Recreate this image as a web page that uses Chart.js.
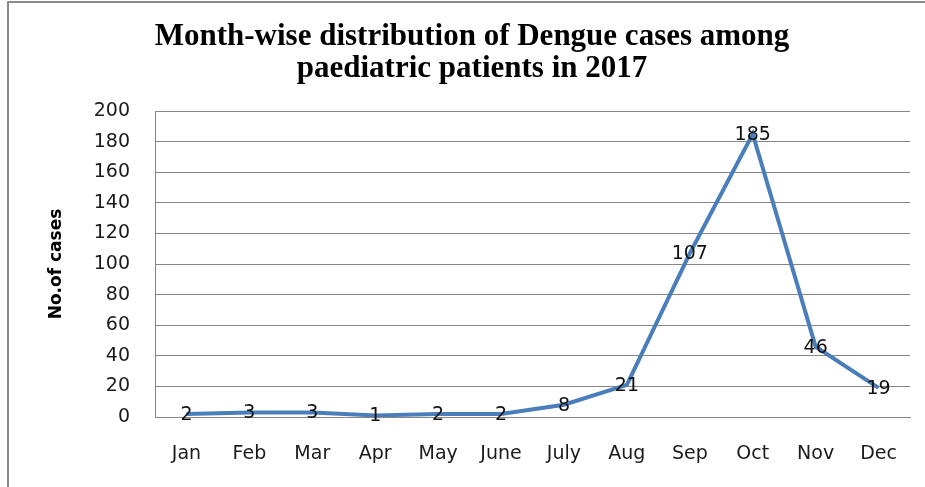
<!DOCTYPE html>
<html>
<head>
<meta charset="utf-8">
<script src="https://cdn.jsdelivr.net/npm/chart.js@4/dist/chart.umd.min.js"></script>
<style>
  html, body { margin: 0; padding: 0; background: #fff; overflow: hidden; }
  #wrap { position: relative; width: 925px; height: 487px; }
  #frame { position: absolute; left: 7px; top: 1px; width: 1000px; height: 600px; border: 2px solid #8c8c8c; box-sizing: border-box; }
  canvas { position: absolute; left: 0; top: 0; }
</style>
</head>
<body>
<div id="wrap">
  <div id="frame"></div>
  <canvas id="chart" width="925" height="487"></canvas>
</div>
<script>
// chart data
const months = ['Jan', 'Feb', 'Mar', 'Apr', 'May', 'June', 'July', 'Aug', 'Sep', 'Oct', 'Nov', 'Dec'];
const cases = [2, 3, 3, 1, 2, 2, 8, 21, 107, 185, 46, 19];
const titleLines = ['Month-wise distribution of Dengue cases among', 'paediatric patients in 2017'];
const yAxisTitle = 'No.of cases';
const yMin = 0, yMax = 200, yStep = 20;

// draw value labels centred on each point
const pointLabels = {
    id: 'pointLabels',
    afterDatasetsDraw(chart) {
        const ctx = chart.ctx;
        const meta = chart.getDatasetMeta(0);
        ctx.save();
        ctx.font = '19px "DejaVu Sans", sans-serif';
        ctx.fillStyle = '#111';
        ctx.textAlign = 'center';
        ctx.textBaseline = 'middle';
        meta.data.forEach((pt, i) => {
            ctx.fillText(String(cases[i]), pt.x, pt.y + 1);
        });
        ctx.restore();
    }
};

new Chart(document.getElementById('chart'), {
    type: 'line',
    data: {
        labels: months,
        datasets: [{
            data: cases,
            borderColor: '#4A7EBB',
            borderWidth: 4,
            pointRadius: 0,
            tension: 0,
            fill: false
        }]
    },
    options: {
        responsive: false,
        animation: false,
        layout: { padding: { left: 34, right: 15, top: 0, bottom: 23 } },
        plugins: {
            legend: { display: false },
            tooltip: { enabled: false },
            title: {
                display: true,
                text: titleLines,
                color: '#000',
                font: { family: '"Liberation Serif", "Times New Roman", serif', size: 31, weight: 'bold', lineHeight: '32px' },
                padding: { top: 21, bottom: 26 }
            }
        },
        scales: {
            x: {
                offset: true,
                afterFit(scale) { scale.height = 47; },
                grid: { display: false, drawTicks: false },
                border: { display: true, color: '#868686', width: 1 },
                ticks: {
                    color: '#1a1a1a',
                    padding: 26,
                    font: { family: '"DejaVu Sans", sans-serif', size: 19 }
                }
            },
            y: {
                min: yMin,
                max: yMax,
                afterFit(scale) { scale.width = 121; },
                grid: { color: '#868686', lineWidth: 1, drawTicks: false },
                border: { display: true, color: '#868686', width: 1 },
                ticks: {
                    stepSize: yStep,
                    color: '#1a1a1a',
                    padding: 25,
                    font: { family: '"DejaVu Sans", sans-serif', size: 19 }
                },
                title: {
                    display: true,
                    text: yAxisTitle,
                    color: '#000',
                    font: { family: '"DejaVu Sans", sans-serif', size: 17, weight: 'bold' },
                    padding: { top: 12, bottom: 0 }
                }
            }
        }
    },
    plugins: [pointLabels]
});
</script>
</body>
</html>
